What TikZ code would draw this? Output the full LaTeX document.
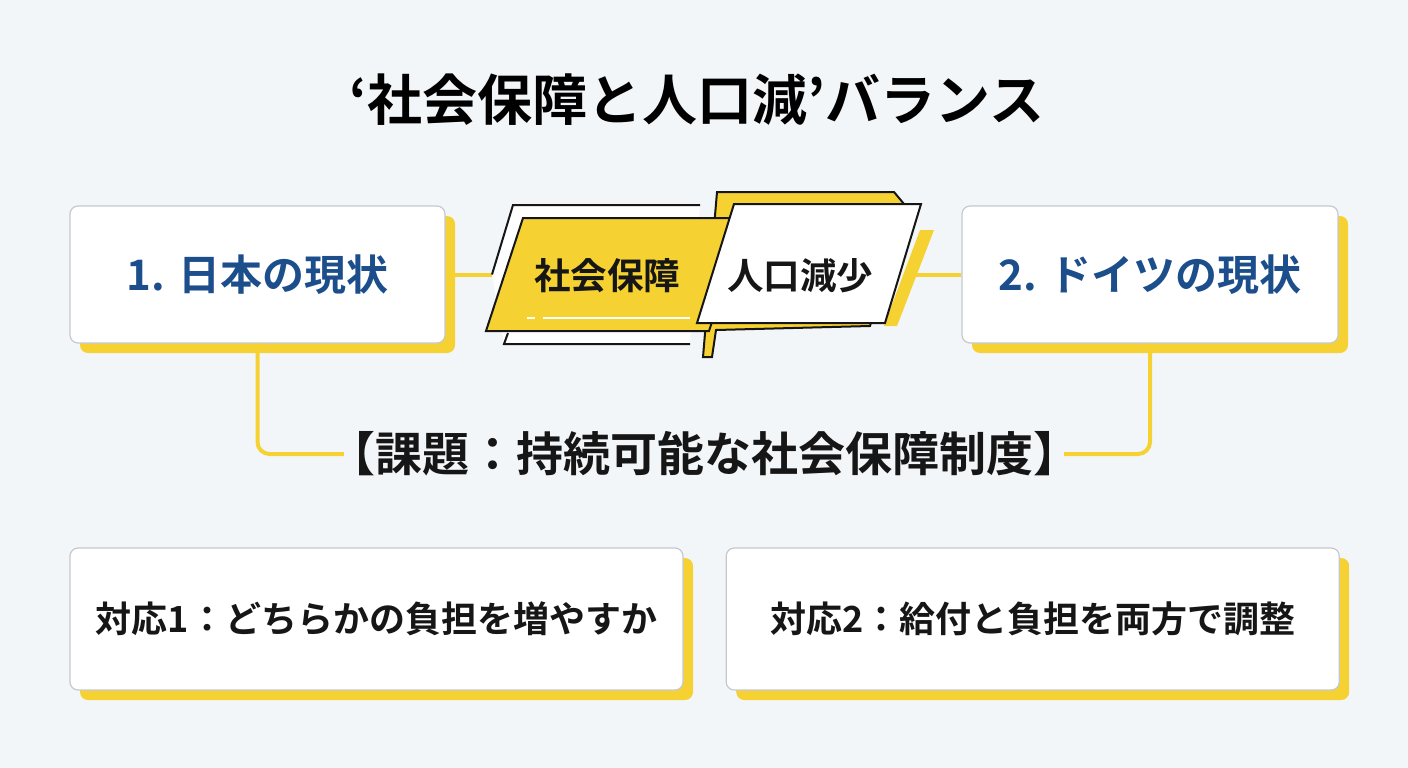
\documentclass[tikz,border=0pt]{standalone}
\usepackage{fontspec}
\setmainfont{Noto Sans CJK JP}[BoldFont={Noto Sans CJK JP Bold}]
\usetikzlibrary{shadows,positioning}
\definecolor{accent}{RGB}{245,210,50}
\definecolor{ink}{RGB}{22,22,22}
\definecolor{headblue}{RGB}{28,78,140}
\definecolor{edgegray}{RGB}{196,201,207}
\definecolor{bgcol}{RGB}{243,246,249}

\tikzset{
  card/.style={draw=edgegray, fill=white, line width=1.2pt, rounded corners=8pt,
    drop shadow={shadow xshift=10pt, shadow yshift=-10pt, fill=accent, opacity=1, draw=none}},
  headtext/.style={font=\bfseries\fontsize{42}{50}\selectfont, text=headblue},
  steptext/.style={font=\bfseries\fontsize{36}{42}\selectfont, text=ink},
  badgetext/.style={font=\bfseries\fontsize{36.5}{42}\selectfont, text=ink},
  link/.style={draw=accent, line width=4pt},
  badgeY/.style={fill=accent, draw=ink, line width=2pt, line join=miter},
  badgeW/.style={fill=white, draw=ink, line width=2pt, line join=miter},
}

\begin{document}
\begin{tikzpicture}[x=1pt, y=-1pt]
    \fill[bgcol] (0,0) rectangle (1408,768);

    \node[font=\bfseries\fontsize{55}{64}\selectfont, text=black] (title) at (697,100) {‘社会保障と人口減’バランス};

    \node[card, headtext, minimum width=375pt, minimum height=137pt] (japan) at (257.5,274.5) {1. 日本の現状};
    \node[card, headtext, minimum width=376pt, minimum height=137pt] (germany) at (1150,274.5) {2. ドイツの現状};

    \node[font=\bfseries\fontsize{47}{56}\selectfont, text=ink, inner xsep=-16pt] (task) at (704,454) {【課題：持続可能な社会保障制度】};

    \node[card, steptext, minimum width=613pt, minimum height=142pt] (plan1) at (376.5,619) {対応1：どちらかの負担を増やすか};
    \node[card, steptext, minimum width=613pt, minimum height=142pt, right=42pt of plan1] (plan2) {対応2：給付と負担を両方で調整};

    \coordinate (jl) at (492,274.5);
    \coordinate (jr) at (914,274.5);
    \draw[link] (japan.east) -- (jl);
    \draw[link] (jr) -- (germany.west);
    \draw[link, rounded corners=12pt] (japan.south) |- (task.west);
    \draw[link, rounded corners=12pt] (germany.south) |- (task.east);

    % centre badge
    \fill[white] (jl) -- (513,205) -- (700,205) -- (690,344) -- (504,344) -- cycle;
    \draw[ink, line width=2pt] (jl) -- (513,205) -- (700,205);
    \draw[ink, line width=2pt] (508,333) -- (504,344) -- (690,344);
    \filldraw[badgeY] (717,192) -- (894,192) -- (904,204) -- (870,326) -- (716,330) -- (712,357) -- (703,357) -- cycle;
    \filldraw[badgeY] (523,218) -- (746,218) -- (709,331) -- (486,331) -- cycle;
    \draw[white, line width=2pt] (527,318) -- (535,318) (543,318) -- (690,318);
    \fill[accent] (920,230) -- (934,230) -- (897,326) -- (884,326) -- cycle;
    \filldraw[badgeW] (734,204) -- (921,204) -- (885,323) -- (697,323) -- cycle;
    \node[badgetext] (social) at (607,276) {社会保障};
    \node[badgetext] (people) at (800,276) {人口減少};
\end{tikzpicture}
\end{document}
